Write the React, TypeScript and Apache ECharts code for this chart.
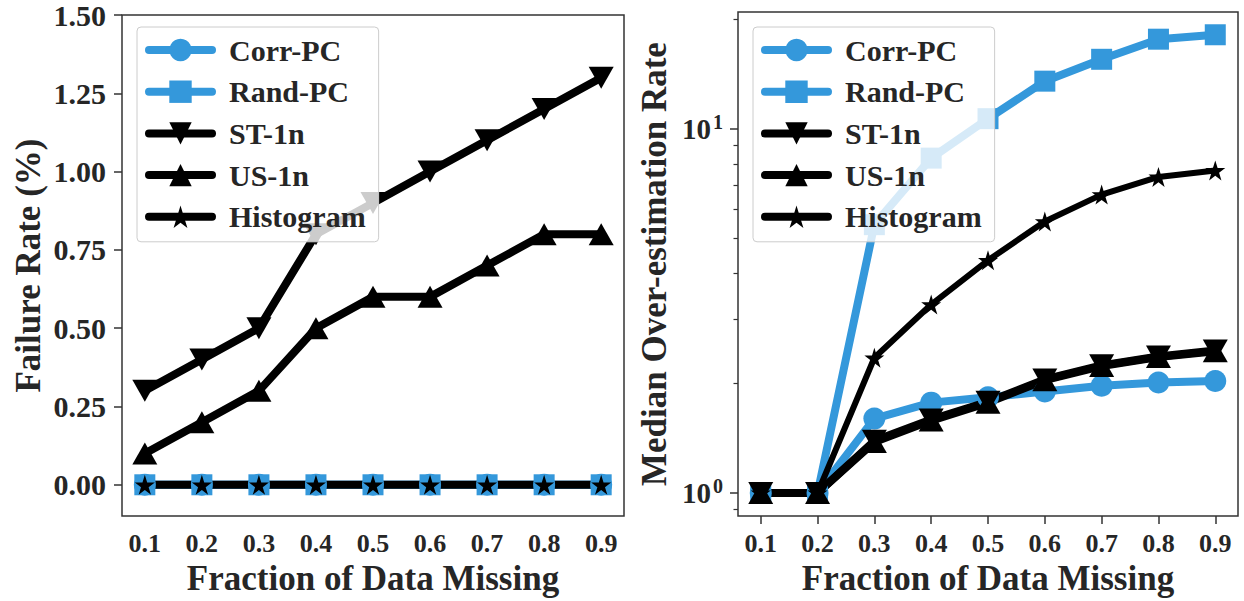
import React, { useEffect, useRef } from 'react';
import * as echarts from 'echarts';

const fractions = [0.1, 0.2, 0.3, 0.4, 0.5, 0.6, 0.7, 0.8, 0.9];
const seriesNames = ['Corr-PC', 'Rand-PC', 'ST-1n', 'US-1n', 'Histogram'];

// Left panel: Failure Rate (%)
const failCorrPC = [0, 0, 0, 0, 0, 0, 0, 0, 0];
const failRandPC = [0, 0, 0, 0, 0, 0, 0, 0, 0];
const failST1n = [0.3, 0.4, 0.5, 0.8, 0.9, 1.0, 1.1, 1.2, 1.3];
const failUS1n = [0.1, 0.2, 0.3, 0.5, 0.6, 0.6, 0.7, 0.8, 0.8];
const failHist = [0, 0, 0, 0, 0, 0, 0, 0, 0];

// Right panel: Median Over-estimation Rate (log)
const overCorrPC = [1, 1, 1.6, 1.77, 1.83, 1.9, 1.97, 2.01, 2.03];
const overRandPC = [1, 1, 5.45, 8.3, 10.65, 13.5, 15.5, 17.6, 18.1];
const overST1n = [1, 1, 1.39, 1.59, 1.78, 2.05, 2.24, 2.37, 2.46];
const overUS1n = [1, 1, 1.38, 1.58, 1.77, 2.04, 2.23, 2.36, 2.45];
const overHist = [1, 1, 2.35, 3.29, 4.35, 5.56, 6.59, 7.37, 7.68];

const failTicks = [0, 0.25, 0.5, 0.75, 1.0, 1.25, 1.5];
const overMajorTicks = [1, 10];
const overMinorTicks = [0.9, 2, 3, 4, 5, 6, 7, 8, 9, 20];

const BLUE = '#3498db';
const BLACK = '#000000';
const TEXT = '#262626';
const SPINE = '#333333';
const FONT = '"Liberation Serif", "Times New Roman", serif';
const STAR = 'path://M50,0 L61.2,34.5 L97.6,34.5 L68.2,55.9 L79.4,90.5 L50,69.1 L20.6,90.5 L31.8,55.9 L2.4,34.5 L38.8,34.5 Z';

const styles: Record<string, any> = {
  'Corr-PC': { color: BLUE, symbol: 'circle', symbolSize: 22, symbolRotate: 0 },
  'Rand-PC': { color: BLUE, symbol: 'rect', symbolSize: 21, symbolRotate: 0 },
  'ST-1n': { color: BLACK, symbol: 'triangle', symbolSize: [25, 22], symbolRotate: 180 },
  'US-1n': { color: BLACK, symbol: 'triangle', symbolSize: [25, 22], symbolRotate: 0 },
  Histogram: { color: BLACK, symbol: STAR, symbolSize: 20, symbolRotate: 0 },
};

function makeSeries(name: string, values: number[], idx: number, lineWidth: number) {
  const s = styles[name];
  return {
    type: 'line',
    name,
    xAxisIndex: idx,
    yAxisIndex: idx,
    data: fractions.map((f, i) => [f, values[i]]),
    symbol: s.symbol,
    symbolSize: s.symbolSize,
    symbolRotate: s.symbolRotate,
    showSymbol: true,
    itemStyle: { color: s.color },
    lineStyle: { color: s.color, width: lineWidth, cap: 'round', join: 'round' },
    emphasis: { disabled: true },
  };
}

const nameStyle = {
  fontFamily: FONT,
  fontWeight: 'bold',
  fontSize: 35,
  color: TEXT,
};

function makeLegend(left: number) {
  return {
    show: true,
    orient: 'vertical',
    left,
    top: 27,
    data: seriesNames,
    selectedMode: false,
    itemWidth: 63,
    itemHeight: 28,
    itemGap: 11.7,
    padding: [8, 13, 10, 8],
    backgroundColor: 'rgba(255,255,255,0.8)',
    borderColor: '#cccccc',
    borderWidth: 1,
    borderRadius: 4,
    lineStyle: { width: 8, cap: 'round' },
    textStyle: {
      fontFamily: FONT,
      fontWeight: 'bold',
      fontSize: 30,
      color: TEXT,
      padding: [0, 0, 0, 12],
    },
  };
}

function makeXAxis(gridIndex: number) {
  return {
    type: 'value',
    gridIndex,
    min: 0.06,
    max: 0.94,
    name: 'Fraction of Data Missing',
    nameLocation: 'middle',
    nameGap: 37,
    nameTextStyle: nameStyle,
    axisLine: { show: false },
    splitLine: { show: false },
    axisTick: { show: true, customValues: fractions, length: 8, lineStyle: { color: SPINE, width: 1.5 } },
    axisLabel: {
      show: true,
      customValues: fractions,
      margin: 14,
      formatter: (v: number) => v.toFixed(1),
      fontFamily: FONT,
      fontWeight: 'bold',
      fontSize: 26,
      color: TEXT,
    },
  };
}

export default function App() {
  const ref = useRef<HTMLDivElement>(null);
  useEffect(() => {
    if (!ref.current) return;
    const chart = echarts.init(ref.current, null, { renderer: 'svg' });
    const option: any = {
      animation: false,
      backgroundColor: '#ffffff',
      grid: [
        { left: 122, top: 12, width: 502, height: 510, show: true, borderColor: SPINE, borderWidth: 1.5, containLabel: false },
        { left: 738, top: 12, width: 500, height: 510, show: true, borderColor: SPINE, borderWidth: 1.5, containLabel: false },
      ],
      legend: [makeLegend(137), makeLegend(753)],
      xAxis: [makeXAxis(0), makeXAxis(1)],
      yAxis: [
        {
          type: 'value',
          gridIndex: 0,
          position: 'left',
          min: -0.1,
          max: 1.5,
          name: 'Failure Rate (%)',
          nameLocation: 'middle',
          nameGap: 76,
          nameTextStyle: nameStyle,
          axisLine: { show: false },
          splitLine: { show: false },
          axisTick: { show: true, customValues: failTicks, length: 8, lineStyle: { color: SPINE, width: 1.5 } },
          axisLabel: {
            show: true,
            customValues: failTicks,
            margin: 16,
            formatter: (v: number) => v.toFixed(2),
            fontFamily: FONT,
            fontWeight: 'bold',
            fontSize: 30,
            lineHeight: 22,
            color: TEXT,
          },
        },
        {
          type: 'log',
          logBase: 10,
          gridIndex: 1,
          position: 'left',
          min: 0.864,
          max: 20.9,
          name: 'Median Over-estimation Rate',
          nameLocation: 'middle',
          nameGap: 66,
          nameTextStyle: nameStyle,
          axisLine: { show: false },
          splitLine: { show: false },
          minorTick: { show: false },
          axisTick: { show: true, customValues: overMajorTicks, length: 8, lineStyle: { color: SPINE, width: 1.5 } },
          axisLabel: {
            show: true,
            customValues: overMajorTicks,
            margin: 15,
            formatter: (v: number) => `{b|10}{s|${Math.round(Math.log10(v))}}`,
            rich: {
              b: { fontFamily: FONT, fontWeight: 'bold', fontSize: 29, color: TEXT },
              s: { fontFamily: FONT, fontWeight: 'bold', fontSize: 20, color: TEXT, padding: [0, 0, 14, 2] },
            },
          },
        },
        {
          type: 'log',
          logBase: 10,
          gridIndex: 1,
          position: 'left',
          offset: 0,
          min: 0.864,
          max: 20.9,
          axisLine: { show: false },
          splitLine: { show: false },
          axisTick: { show: true, customValues: overMinorTicks, length: 4.5, lineStyle: { color: SPINE, width: 1.2 } },
          axisLabel: { show: false },
        },
      ],
      series: [
        makeSeries('Corr-PC', failCorrPC, 0, 8),
        makeSeries('Rand-PC', failRandPC, 0, 8),
        makeSeries('ST-1n', failST1n, 0, 8),
        makeSeries('US-1n', failUS1n, 0, 8),
        makeSeries('Histogram', failHist, 0, 8),
        makeSeries('Corr-PC', overCorrPC, 1, 8),
        makeSeries('Rand-PC', overRandPC, 1, 8),
        makeSeries('ST-1n', overST1n, 1, 8),
        makeSeries('US-1n', overUS1n, 1, 8),
        makeSeries('Histogram', overHist, 1, 6),
      ],
    };
    chart.setOption(option);
    return () => chart.dispose();
  }, []);
  return <div ref={ref} style={{ position: 'absolute', left: 0, top: 0, width: 1244, height: 601 }} />;
}
